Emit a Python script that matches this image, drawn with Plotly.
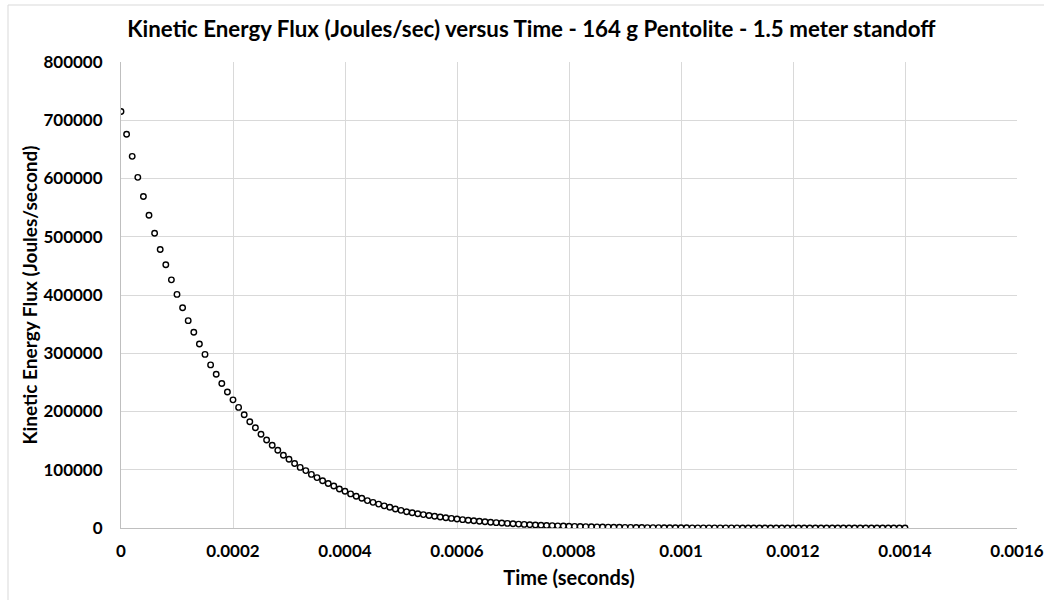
import plotly.graph_objects as go

# Time step index (0..140) -> time in seconds, step 1e-5 s
n_points = 141
time_s = [i * 1e-5 for i in range(n_points)]

# Kinetic energy flux (J/s)
flux = [
    715000, 676000, 638000, 602000, 569000, 537000, 506000, 478000, 452000, 426000,
    401000, 378000, 356000, 336000, 316000, 298000, 280000, 264000, 248000, 233500,
    220000, 207000, 194500, 182500, 172000, 161000, 151000, 142000, 133500, 125000,
    118000, 110700, 104000, 98500, 92000, 86500, 81000, 76500, 72000, 67000,
    63000, 58500, 54500, 51000, 47000, 44000, 41000, 38000, 35500, 32700,
    30300, 28000, 26200, 24500, 23000, 21500, 20100, 18800, 17600, 16500,
    15400, 14300, 13300, 12400, 11500, 10700, 9900, 9200, 8500, 7900,
    7300, 6700, 6200, 5700, 5200, 4800, 4400, 4000, 3700, 3400,
    3100, 2800, 2550, 2300, 2100, 1900, 1700, 1550, 1400, 1250,
    1100, 1000, 900, 800, 720, 650, 580, 520, 470, 420,
    380, 340, 300, 270, 245, 220, 200, 180, 160, 145,
    130, 117, 105, 95, 85, 76, 68, 61, 55, 49,
    44, 39, 35, 31, 28, 25, 22, 20, 18, 16,
    14, 12, 11, 10, 9, 8, 7, 6, 5, 4,
    3,
]

x_tickvals = [0, 0.0002, 0.0004, 0.0006, 0.0008, 0.001, 0.0012, 0.0014, 0.0016]
x_ticktext = ["0", "0.0002", "0.0004", "0.0006", "0.0008", "0.001", "0.0012", "0.0014", "0.0016"]
y_tickvals = [0, 100000, 200000, 300000, 400000, 500000, 600000, 700000, 800000]
y_ticktext = [str(v) for v in y_tickvals]

title_text = "Kinetic Energy Flux (Joules/sec) versus Time - 164 g Pentolite - 1.5 meter standoff"
x_title = "Time (seconds)"
y_title = "Kinetic Energy Flux (Joules/second)"

FONT = "Lato"

fig = go.Figure()
fig.add_trace(go.Scatter(
    x=time_s, y=flux, mode="markers",
    marker=dict(symbol="circle", size=5.5, color="white",
                line=dict(color="black", width=1.4)),
    showlegend=False, hoverinfo="x+y",
))

L, R, T, B = 121, 27, 62, 72
W, H = 1044, 600
pw, ph = W - L - R, H - T - B

fig.update_layout(
    width=W, height=H,
    margin=dict(l=L, r=R, t=T, b=B, autoexpand=False),
    paper_bgcolor="white", plot_bgcolor="white",
    font=dict(family=FONT, color="black"),
    title=dict(text="<b>" + title_text + "</b>", x=0.509, xref="container",
               xanchor="center", y=1 - 29 / H, yref="container", yanchor="middle",
               font=dict(family=FONT, size=22.3, color="black")),
    xaxis=dict(
        range=[0, 0.0016], tickvals=x_tickvals,
        ticktext=["<b>" + t + "</b>" for t in x_ticktext],
        showgrid=True, gridcolor="#d9d9d9", gridwidth=1,
        showline=True, linecolor="#bfbfbf", linewidth=1,
        zeroline=False, ticks="", automargin=False, ticklabelstandoff=8,
        tickfont=dict(family=FONT, size=17, color="black"),
        title=dict(text="<b>" + x_title + "</b>", font=dict(family=FONT, size=20, color="black"),
                   standoff=10),
    ),
    yaxis=dict(
        range=[0, 800000], tickvals=y_tickvals,
        ticktext=["<b>" + t + "</b>" for t in y_ticktext],
        showgrid=True, gridcolor="#d9d9d9", gridwidth=1,
        showline=True, linecolor="#bfbfbf", linewidth=1,
        zeroline=False, ticks="", ticklabelstandoff=14, automargin=False,
        tickfont=dict(family=FONT, size=17, color="black"),
        title=dict(text="<b>" + y_title + "</b>", font=dict(family=FONT, size=19, color="black"),
                   standoff=0),
    ),
)

# outer chart-area border (light grey), partly off-canvas right/bottom
fig.add_shape(type="rect", xref="paper", yref="paper",
              x0=(8 - L) / pw, x1=(W + 6 - L) / pw,
              y0=(H - B - (H + 6)) / ph, y1=(H - B - 5) / ph,
              line=dict(color="#d9d9d9", width=1), fillcolor="rgba(0,0,0,0)", layer="below")

fig.write_html("out.html", config={"displayModeBar": False},
               post_script="document.body.style.margin='0';document.body.style.overflow='hidden';")
